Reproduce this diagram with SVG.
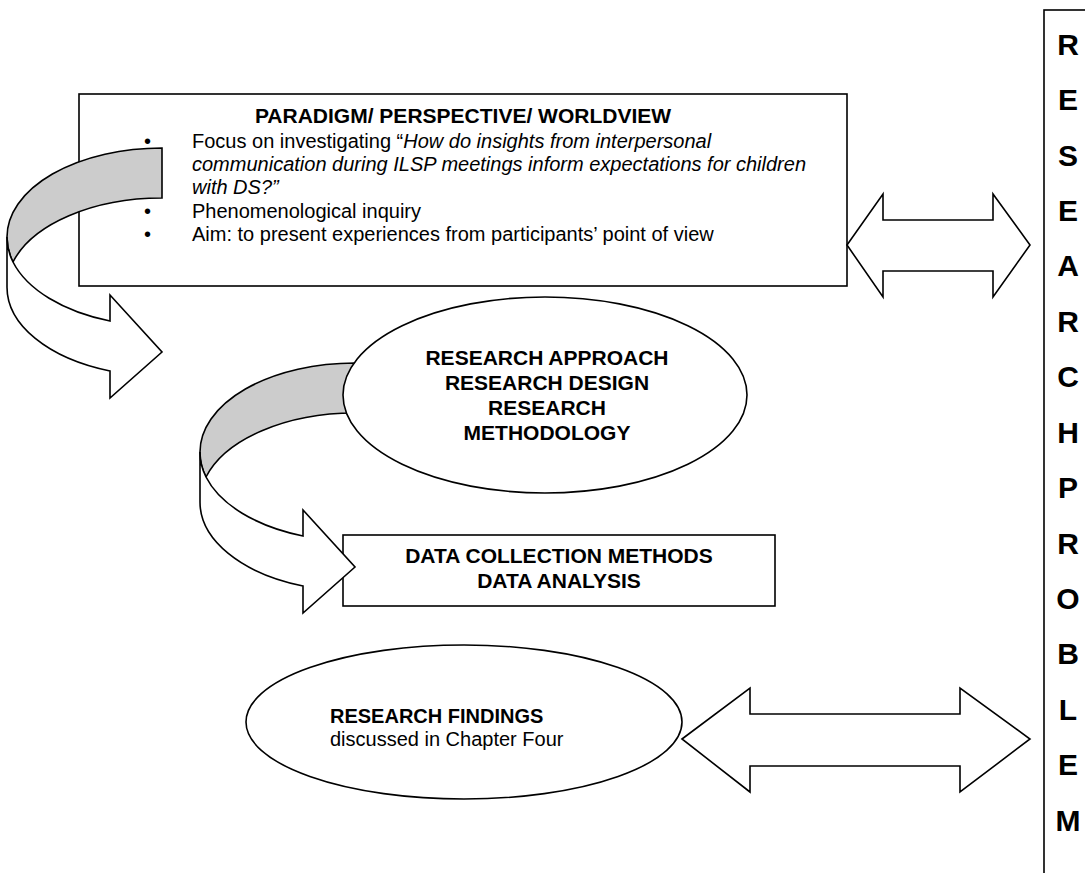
<svg xmlns="http://www.w3.org/2000/svg" width="1085" height="873" viewBox="0 0 1085 873">
<style>
.ln{fill:#fff;stroke:#000;stroke-width:1.6;stroke-linejoin:miter}
.gr{fill:#ccc;stroke:#000;stroke-width:1.6;stroke-linejoin:miter}
text{font-family:"Liberation Sans",Arial,sans-serif;fill:#000}
.b{font-weight:bold;font-size:21px}
.t{font-size:20px}
.tb{font-size:20px;font-weight:bold}
.big{font-weight:bold;font-size:30px;text-anchor:middle}
.c{text-anchor:middle}
</style>
<rect width="1085" height="873" fill="#fff"/>
<g id="paradigm">
<rect class="ln" x="79" y="94" width="768" height="192"/>
<text class="b c" x="463" y="123">PARADIGM/ PERSPECTIVE/ WORLDVIEW</text>
<text class="t" x="144" y="148">•</text>
<text class="t" x="192" y="148">Focus on investigating “<tspan font-style="italic">How do insights from interpersonal</tspan></text>
<text class="t" x="192" y="171" font-style="italic">communication during ILSP meetings inform expectations for children</text>
<text class="t" x="192" y="194" font-style="italic">with DS?”</text>
<text class="t" x="144" y="218">•</text>
<text class="t" x="192" y="218">Phenomenological inquiry</text>
<text class="t" x="144" y="241">•</text>
<text class="t" x="192" y="241">Aim: to present experiences from participants’ point of view</text>
</g>
<g id="data">
<rect class="ln" x="343" y="535" width="432" height="71"/>
<text class="b c" x="559" y="563">DATA COLLECTION METHODS</text>
<text class="b c" x="559" y="588">DATA ANALYSIS</text>
</g>
<g id="connectors">
<path class="gr" d="M162,148 A155,89 0 0 0 7,237 A155,89 0 0 0 13,262 A155,89 0 0 1 162,198 Z"/>
<path class="ln" d="M7,237 L7,287 A155,89 0 0 0 110,371 L110,398 L162,352 L110,295 L110,321 A155,89 0 0 1 13,262 A155,89 0 0 1 7,237 Z"/>
<path class="gr" d="M355,363 A155,89 0 0 0 200,452 A155,89 0 0 0 206,477 A155,89 0 0 1 355,413 Z"/>
<path class="ln" d="M200,452 L200,502 A155,89 0 0 0 303,586 L303,613 L355,567 L303,510 L303,536 A155,89 0 0 1 206,477 A155,89 0 0 1 200,452 Z"/>
<path class="ln" d="M847,245 L883,194 L883,220 L993,220 L993,194 L1030,245 L993,297 L993,271 L883,271 L883,297 Z"/>
<path class="ln" d="M682,739 L750,688 L750,714 L960,714 L960,688 L1030,739 L960,792 L960,766 L750,766 L750,792 Z"/>
</g>
<g id="approach">
<ellipse class="ln" cx="545" cy="395" rx="202" ry="98"/>
<text class="b c" x="547" y="365">RESEARCH APPROACH</text>
<text class="b c" x="547" y="390">RESEARCH DESIGN</text>
<text class="b c" x="547" y="415">RESEARCH</text>
<text class="b c" x="547" y="440">METHODOLOGY</text>
</g>
<g id="findings">
<ellipse class="ln" cx="464" cy="722" rx="218" ry="77"/>
<text class="tb" x="330" y="723">RESEARCH FINDINGS</text>
<text class="t" x="330" y="746">discussed in Chapter Four</text>
</g>
<g id="problem">
<rect class="ln" x="1044" y="10" width="60" height="880"/>
<text class="big" x="1068" y="55">R</text>
<text class="big" x="1068" y="110">E</text>
<text class="big" x="1068" y="166">S</text>
<text class="big" x="1068" y="221">E</text>
<text class="big" x="1068" y="276">A</text>
<text class="big" x="1068" y="332">R</text>
<text class="big" x="1068" y="387">C</text>
<text class="big" x="1068" y="443">H</text>
<text class="big" x="1068" y="498">P</text>
<text class="big" x="1068" y="554">R</text>
<text class="big" x="1068" y="609">O</text>
<text class="big" x="1068" y="664">B</text>
<text class="big" x="1068" y="720">L</text>
<text class="big" x="1068" y="775">E</text>
<text class="big" x="1068" y="831">M</text>
</g>
</svg>
